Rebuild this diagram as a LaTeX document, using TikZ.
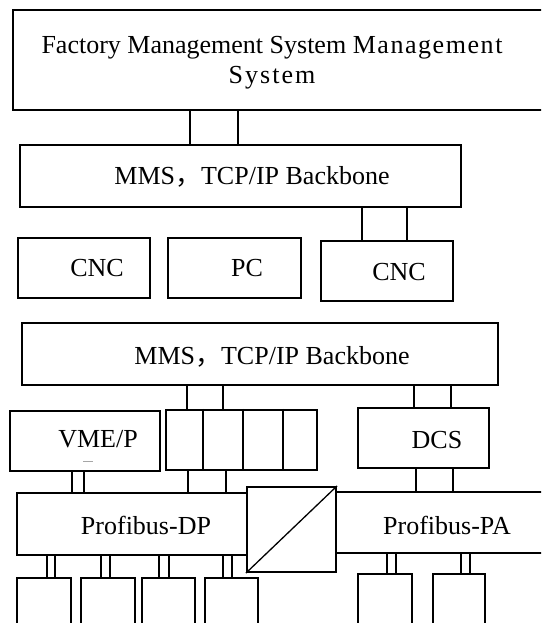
\documentclass[tikz,border=0pt]{standalone}
\usepackage{fontspec}
\setmainfont{Liberation Serif}
\newfontfamily\cjk{Noto Sans CJK SC}
\usetikzlibrary{fit}
\begin{document}
\begin{tikzpicture}[x=1pt,y=-1pt,
  box/.style={draw, line width=2.2pt, inner sep=0pt, rectangle},
  conn/.style={line width=1.1pt},
  connb/.style={line width=1.6pt},
  lbl/.style={font=\fontsize{26}{30}\selectfont, inner sep=0pt, align=center}]
\useasboundingbox (0,0) rectangle (541,623);
\clip (0,0) rectangle (541,623);
% top
\node[box, fit={(13,10)(548,110)}] (top) {};
\node[lbl] (toptext) at (272,63) {Factory Management System {\addfontfeature{LetterSpace=6}Management}\\{\addfontfeature{LetterSpace=8}System}};
% backbone 1
\node[box, fit={(20,145)(461,207)}] (bb1) {};
\node[lbl] (bb1t) at (252,177) {MMS{\cjk ，}TCP/IP Backbone};
\draw[connb] (190,0 |- top.south) -- (190,0 |- bb1.north);
\draw[connb] (238,0 |- top.south) -- (238,0 |- bb1.north);
% row of CNC/PC
\node[box, fit={(18,238)(150,298)}] (cnc1) {};
\node[lbl] (cnc1t) at (97,268) {CNC};
\node[box, fit={(168,238)(301,298)}] (pc) {};
\node[lbl] (pct) at (247,268) {PC};
\node[box, fit={(321,241)(453,301)}] (cnc2) {};
\node[lbl] (cnc2t) at (399,272) {CNC};
\draw[conn] (362,0 |- bb1.south) -- (362,0 |- cnc2.north);
\draw[conn] (407,0 |- bb1.south) -- (407,0 |- cnc2.north);
% backbone 2
\node[box, fit={(22,323)(498,385)}] (bb2) {};
\node[lbl] (bb2t) at (272,357) {MMS{\cjk ，}TCP/IP Backbone};
% middle row
\node[box, fit={(10,411)(160,471)}] (vme) {};
\node[lbl] (vmet) at (98,439) {VME/P};
\draw[gray, line width=0.8pt] (vme.center) ++(0,0) coordinate (vc);
\draw[gray!70, line width=1pt] (83,461) -- (93,461);
\node[box, fit={(166,410)(317,470)}] (cells) {};
\foreach \xx in {203,243,283} \draw[line width=2pt] (\xx,0 |- cells.north) -- (\xx,0 |- cells.south);
\node[box, fit={(358,408)(489,468)}] (dcs) {};
\node[lbl] (dcst) at (437,440) {DCS};
\draw[conn] (187,0 |- bb2.south) -- (187,0 |- cells.north);
\draw[conn] (223,0 |- bb2.south) -- (223,0 |- cells.north);
\draw[conn] (414,0 |- bb2.south) -- (414,0 |- dcs.north);
\draw[conn] (451,0 |- bb2.south) -- (451,0 |- dcs.north);
% profibus
\node[box, fit={(17,493)(247,555)}] (dp) {};
\node[lbl] (dpt) at (146,525) {Profibus-DP};
\node[box, fit={(336,492)(548,553)}] (pa) {};
\node[lbl] (pat) at (447,525) {Profibus-PA};
\node[box, fill=white, fit={(247,487)(336,572)}] (conv) {};
\draw[line width=1.3pt] (conv.south west) -- (conv.north east);
\draw[conn] (72,0 |- vme.south) -- (72,0 |- dp.north);
\draw[conn] (84,0 |- vme.south) -- (84,0 |- dp.north);
\draw[conn] (188,0 |- cells.south) -- (188,0 |- dp.north);
\draw[conn] (226,0 |- cells.south) -- (226,0 |- dp.north);
\draw[conn] (416,0 |- dcs.south) -- (416,0 |- pa.north);
\draw[conn] (453,0 |- dcs.south) -- (453,0 |- pa.north);
% bottom devices
\node[box, fit={(17,578)(71,640)}] (d1) {};
\node[box, fit={(81,578)(135,640)}] (d2) {};
\node[box, fit={(142,578)(195,640)}] (d3) {};
\node[box, fit={(205,578)(258,640)}] (d4) {};
\node[box, fit={(358,574)(412,640)}] (d5) {};
\node[box, fit={(433,574)(485,640)}] (d6) {};
\foreach \a/\b/\n in {47/55/d1, 101/110/d2, 159/169/d3, 223/232/d4} {
  \draw[conn] (\a,0 |- dp.south) -- (\a,0 |- \n.north);
  \draw[conn] (\b,0 |- dp.south) -- (\b,0 |- \n.north);
}
\foreach \a/\b/\n in {387/396/d5, 461/470/d6} {
  \draw[conn] (\a,0 |- pa.south) -- (\a,0 |- \n.north);
  \draw[conn] (\b,0 |- pa.south) -- (\b,0 |- \n.north);
}
\end{tikzpicture}
\end{document}
